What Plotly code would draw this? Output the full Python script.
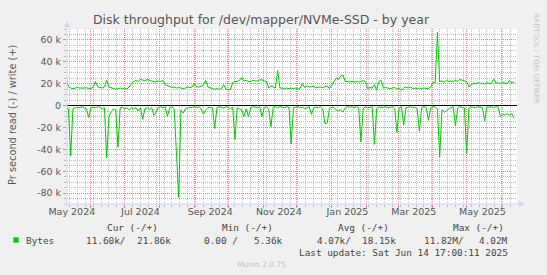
import plotly.graph_objects as go
import pandas as pd

# ---------------- data (k bytes / s), one value every 2 days ----------------
start_date = "2024-05-10 17:00"
end_date = "2025-06-14 17:00"

write_k = [
    25, 17, 16, 15.5, 16, 16.5, 16, 15.8, 16, 16.2,
    16, 15.5, 17, 22, 17, 16.5, 16, 17, 23, 17,
    16, 15.5, 15, 15.8, 16, 15.5, 16, 15, 17, 20,
    22, 23, 22, 24, 23, 22.5, 24, 23, 22, 21.5,
    22, 22.5, 22, 23, 19, 18, 17, 16.5, 17, 16,
    16.5, 16, 15.5, 16, 17, 16.5, 17, 20, 17, 17,
    17.5, 19, 23, 17, 16, 15.5, 15, 15.5, 15, 15.5,
    19, 15, 14.5, 14.5, 21, 22, 22, 23, 25.5, 22.5,
    23, 22, 22, 23, 22.5, 22.5, 23.5, 23.5, 22.5, 22,
    16, 18, 17, 16, 32, 16, 16, 15.5, 16, 15.5,
    16, 15.5, 16, 15, 16, 20, 16.5, 18, 17, 17,
    17.5, 16.5, 17, 17, 16.5, 17, 18, 15.5, 19, 22,
    25, 24, 27, 28, 22, 22, 21.5, 22, 21.5, 22,
    21.5, 22, 23, 21.5, 15.5, 16.5, 16, 19, 14, 22,
    23, 16, 16.5, 16, 15.5, 16, 16.5, 15, 16, 14,
    16, 17, 16, 17, 15.5, 16, 15.5, 16, 15.5, 16,
    16, 15.5, 17, 21, 21, 67, 22, 22.5, 21.5, 23,
    22, 22.5, 22, 23, 22, 24, 23, 22.5, 22, 17,
    19, 20.5, 20, 21, 20, 20.5, 19.5, 21, 20, 20.5,
    24, 20.5, 21, 20, 21, 20.5, 20, 23, 20.5, 21.86,
]

read_k = [
    2, 3, 46, 3, 2, 1.5, 2, 1, 2, 3,
    11, 2, 1.5, 2, 1, 1.5, 3, 2, 48, 10,
    6, 3, 4, 38, 2, 1.5, 3, 2, 4, 2,
    3, 2, 5, 2, 12.5, 3, 2, 4, 2, 9,
    6, 1.5, 1, 2, 1, 10, 2, 1, 3, 44,
    84, 4, 7, 3, 2, 2, 1.5, 1, 2, 1,
    3, 8, 4, 2, 1.5, 2, 21, 2, 1, 2,
    2.5, 1, 1.5, 3, 1.5, 31, 2, 3, 4, 10,
    3, 10, 2, 1, 1.5, 2, 1, 10, 2, 1,
    3, 19.5, 1.5, 1, 2, 1, 1.5, 2, 1, 2,
    35, 2, 1.5, 1, 2, 1.5, 3, 2, 1, 8,
    2, 1.5, 2, 1, 3, 16.5, 16, 3, 1.5, 2,
    4, 5, 4, 6, 2, 1, 1.5, 1, 2, 1,
    2, 33, 3, 1, 2, 1.5, 1, 35.5, 3, 1,
    2, 1.5, 1, 2, 1.5, 1, 3, 24.5, 2, 1,
    18, 2, 1.5, 1, 2, 1.5, 3, 23.5, 2, 1,
    1.5, 13.5, 2, 1, 1.5, 3, 47, 4, 6, 5,
    3, 2, 1, 18.5, 2, 1, 1.5, 2, 44, 2,
    1, 1.5, 2, 1, 1.5, 2, 14, 1, 1.5, 1,
    2, 1, 1.5, 10, 8, 8.5, 7.5, 9, 7, 11.6,
]

y_tick_vals = [-80000, -60000, -40000, -20000, 0, 20000, 40000, 60000]
y_tick_text = ["-80 k", "-60 k", "-40 k", "-20 k", "0", "20 k", "40 k", "60 k"]

month_starts = pd.date_range("2024-06-01", "2025-06-01", freq="MS")
x_label_vals = ["2024-05-15", "2024-07-15", "2024-09-15", "2024-11-15",
                "2025-01-15", "2025-03-15", "2025-05-15"]
x_label_text = ["May 2024", "Jul 2024", "Sep 2024", "Nov 2024",
                "Jan 2025", "Mar 2025", "May 2025"]

legend_head = ["Cur (-/+)", "Min (-/+)", "Avg (-/+)", "Max (-/+)"]
series_name = "Bytes"
stats = [("11.60k/", "21.86k"), ("0.00 /", "5.36k"), ("4.07k/", "18.15k"), ("11.82M/", "4.02M")]
last_update = "Last update: Sat Jun 14 17:00:11 2025"
version_text = "Munin 2.0.75"
title_text = "Disk throughput for /dev/mapper/NVMe-SSD - by year"
y_title = "Pr second read (-) / write (+)"

# ---------------- figure ----------------
W, H = 547, 275
ML, MR, MT, MB = 67, 30, 29, 71
PW, PH = W - ML - MR, H - MT - MB


def px(x):
    return (x - ML) / PW


def py(y):
    return (H - MB - y) / PH


dates = pd.date_range(start="2024-05-10", periods=len(write_k), freq="2D")
green = "#00CC00"
text_col = "#555555"
major_grid = "rgba(235,120,120,0.85)"
minor_grid = "rgba(170,170,170,0.75)"
axis_col = "#CFD6F8"

fig = go.Figure()
fig.add_trace(go.Scatter(x=dates, y=[v * 1000 for v in write_k], mode="lines",
                         line=dict(color=green, width=1), hoverinfo="skip"))
fig.add_trace(go.Scatter(x=dates, y=[-v * 1000 for v in read_k], mode="lines",
                         line=dict(color=green, width=1), hoverinfo="skip"))
fig.add_trace(go.Scatter(x=[start_date, end_date], y=[None, None], xaxis="x2",
                         mode="lines", hoverinfo="skip"))

fig.update_layout(
    width=W, height=H,
    margin=dict(l=ML, r=MR, t=MT, b=MB, pad=0),
    paper_bgcolor="#F0F0F0", plot_bgcolor="#FFFFFF",
    showlegend=False,
    font=dict(family="DejaVu Sans", size=9.5, color=text_col),
    title=dict(text=title_text, x=261 / W, xanchor="center", y=1 - 20 / H, yanchor="middle",
               font=dict(family="DejaVu Sans", size=12.5, color=text_col)),
    xaxis=dict(
        type="date", range=[start_date, end_date],
        tickmode="array", tickvals=list(month_starts), ticktext=[""] * len(month_starts),
        showgrid=True, gridcolor=major_grid, griddash="1px,1px", gridwidth=1,
        ticks="outside", ticklen=3, tickcolor=major_grid,
        showline=False, zeroline=False,
        minor=dict(dtick=7 * 86400000, tick0="2024-05-13", showgrid=True,
                   gridcolor=minor_grid, griddash="1px,1px", gridwidth=1,
                   ticks="outside", ticklen=2, tickcolor=minor_grid),
    ),
    xaxis2=dict(
        type="date", range=[start_date, end_date], overlaying="x", anchor="y", side="bottom",
        tickmode="array", tickvals=x_label_vals, ticktext=x_label_text,
        showgrid=False, zeroline=False, showline=False, ticks="",
        tickfont=dict(size=9.5, color=text_col),
    ),
    yaxis=dict(
        range=[-90000, 70000],
        tickmode="array", tickvals=y_tick_vals, ticktext=y_tick_text,
        showgrid=True, gridcolor=major_grid, griddash="1px,1px", gridwidth=1,
        zeroline=True, zerolinecolor="#000000", zerolinewidth=1,
        ticks="outside", ticklen=3, tickcolor=major_grid,
        showline=False,
        tickfont=dict(size=9.5, color=text_col),
        minor=dict(dtick=5000, showgrid=True, gridcolor=minor_grid, griddash="1px,1px",
                   gridwidth=1, ticks="outside", ticklen=2, tickcolor=minor_grid),
    ),
)

shapes = []
# axis lines with arrows
shapes.append(dict(type="line", xref="paper", yref="paper", x0=px(67), x1=px(67),
                   y0=py(207), y1=py(26), line=dict(color=axis_col, width=1)))
shapes.append(dict(type="path", xref="paper", yref="paper",
                   path=f"M {px(64)} {py(27)} L {px(70)} {py(27)} L {px(67)} {py(21)} Z",
                   fillcolor=axis_col, line=dict(color=axis_col, width=0)))
shapes.append(dict(type="line", xref="paper", yref="paper", x0=px(64), x1=px(520),
                   y0=py(204), y1=py(204), line=dict(color=axis_col, width=1)))
shapes.append(dict(type="path", xref="paper", yref="paper",
                   path=f"M {px(519)} {py(201)} L {px(519)} {py(207)} L {px(525)} {py(204)} Z",
                   fillcolor=axis_col, line=dict(color=axis_col, width=0)))
# legend colour box
shapes.append(dict(type="rect", xref="paper", yref="paper", x0=px(13.3), x1=px(18.7),
                   y0=py(242.7), y1=py(237.3), fillcolor=green, line=dict(color=green, width=0)))
fig.update_layout(shapes=shapes)

mono = dict(family="DejaVu Sans Mono", size=9.4, color="#444444")
ann = []


def add_text(text, x, y, xanchor="left", font=mono, angle=0):
    ann.append(dict(text=text, x=px(x), y=py(y), xref="paper", yref="paper",
                    xanchor=xanchor, yanchor="middle", showarrow=False,
                    font=font, textangle=angle, borderpad=0))


add_text(y_title, 12.5, 115.5, xanchor="center",
         font=dict(family="DejaVu Sans", size=9.8, color=text_col), angle=-90)
add_text("RRDTOOL / TOBI OETIKER", 535.5, 58, xanchor="center",
         font=dict(family="DejaVu Sans", size=7, color="#C4C4C4"), angle=90)

for txt, x in zip(legend_head, [106, 221, 337, 452]):
    add_text(txt, x, 227.5)
add_text(series_name, 25, 240)
lefts = [85, 203, 316, 423]
rights = [172, 284, 397, 509]
for (a, b), xl, xr in zip(stats, lefts, rights):
    add_text(a, xl, 240)
    add_text(b, xr, 240, xanchor="right")
add_text(last_update, 509, 252.5, xanchor="right")
add_text(version_text, 261, 264, xanchor="center",
         font=dict(family="DejaVu Sans", size=7.5, color="#C0C0C0"))

fig.update_layout(annotations=ann)

fig.write_html("out.html", config={"displayModeBar": False})
